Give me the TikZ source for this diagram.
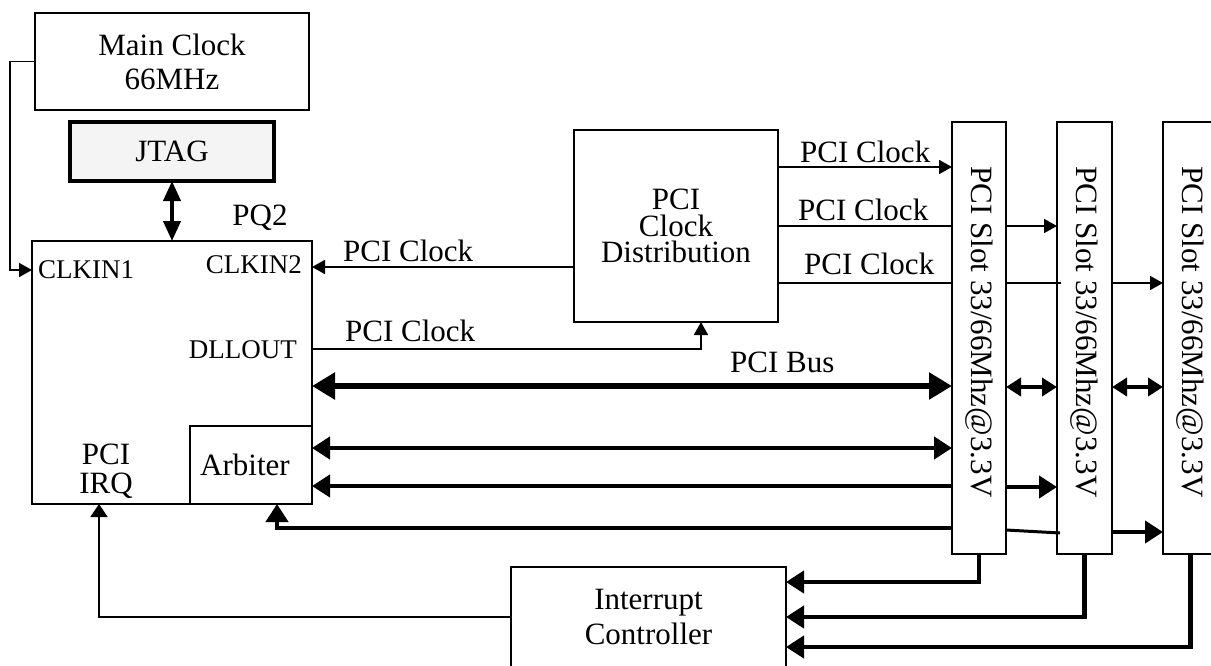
\documentclass[tikz,border=0pt]{standalone}
\usepackage{fontspec}
\setmainfont{Liberation Serif}
\usetikzlibrary{arrows.meta}
\definecolor{jtagfill}{RGB}{244,244,244}
\begin{document}
\begin{tikzpicture}[x=1pt,y=-1pt,
  box/.style={draw, line width=1.8pt, inner sep=0pt, outer sep=0pt, anchor=north west, align=center},
  lbl/.style={inner sep=0pt, font=\fontsize{31}{25}\selectfont},
  pin/.style={inner sep=0pt, font=\fontsize{27}{27}\selectfont},
  thinline/.style={line width=1.8pt},
  tarr/.style={thinline, -{Triangle[length=13pt,width=14pt]}},
  busline/.style={line width=4.2pt},
  barr/.style={busline, -{Triangle[length=18pt,width=22pt]}},
  bbarr/.style={busline, {Triangle[length=18pt,width=22pt]}-{Triangle[length=18pt,width=22pt]}},
  sbarr/.style={busline, {Triangle[length=15pt,width=18pt]}-{Triangle[length=15pt,width=18pt]}},
  pcibus/.style={line width=5.5pt, {Triangle[length=23pt,width=26pt]}-{Triangle[length=23pt,width=26pt]}},
  slottext/.style={lbl, rotate=-90}
]
\useasboundingbox (0,0) rectangle (1211,665);

% boxes
\node[box, lbl, font=\fontsize{31}{34}\selectfont, minimum width=274pt, minimum height=97pt] (mc) at (35,13) {Main Clock\\66MHz};
\node[box, lbl, line width=3.2pt, fill=jtagfill, minimum width=204pt, minimum height=59pt] (jtag) at (70,122) {JTAG};
\node[box, minimum width=280pt, minimum height=263pt] (pq2) at (32,241) {};
\node[box, lbl, minimum width=122pt, minimum height=78pt] (arb) at (190,426) {Arbiter\hspace*{12pt}};
\node[box, lbl, font=\fontsize{31}{26.5}\selectfont, minimum width=204pt, minimum height=192pt] (cd) at (574,130) {PCI\\Clock\\Distribution};
\node[box, lbl, font=\fontsize{31}{35}\selectfont, minimum width=275pt, minimum height=100pt] (ic) at (511,567) {Interrupt\\Controller};
\node[box, minimum width=54pt, minimum height=432pt] (s1) at (952,122) {};
\node[box, minimum width=55pt, minimum height=432pt] (s2) at (1057,122) {};
\node[box, minimum width=55pt, minimum height=432pt] (s3) at (1163,122) {};

% slot texts
\node[slottext] (s1t) at (979,332) {PCI Slot 33/66Mhz@3.3V};
\node[slottext] (s2t) at (1084.5,332) {PCI Slot 33/66Mhz@3.3V};
\node[slottext] (s3t) at (1190.5,332) {PCI Slot 33/66Mhz@3.3V};

% labels
\node[lbl] (pq2l) at (260,218) {PQ2};
\node[pin, anchor=base west] (clk1l) at (38,278) {CLKIN1};
\node[pin, anchor=base east] (clk2l) at (302,273) {CLKIN2};
\node[pin, anchor=base east] (dlll) at (297,358) {DLLOUT};
\node[lbl, align=center, font=\fontsize{31}{29}\selectfont] (irql) at (106,471) {PCI\\IRQ};
\node[lbl, anchor=base west] (l1) at (343,261) {PCI Clock};
\node[lbl, anchor=base west] (l2) at (345,341) {PCI Clock};
\node[lbl, anchor=base west] (l3) at (800,162) {PCI Clock};
\node[lbl, anchor=base west] (l4) at (798,220) {PCI Clock};
\node[lbl, anchor=base west] (l5) at (804,274) {PCI Clock};
\node[lbl, anchor=base west] (lbus) at (730,372) {PCI Bus};

% pin coordinates
\coordinate (clkin1) at (32,270);
\coordinate (clkin2) at (312,267);
\coordinate (dllout) at (312,349);
\coordinate (cdin) at (701,322);
\coordinate (arbin) at (277,504);
\coordinate (irqin) at (99,504);

% clock connections
\draw[tarr] (mc.west) -- ++(-25,0) |- (clkin1);
\draw[line width=4pt, {Triangle[length=20pt,width=17pt]}-{Triangle[length=20pt,width=17pt]}] (jtag.south) -- (jtag.south |- pq2.north);
\draw[tarr] (cd.west |- clkin2) -- (clkin2);
\draw[tarr] (dllout) -| (cdin);
\draw[tarr] (cd.east |- 0,167) -- (s1.west |- 0,167);
\draw[thinline] (cd.east |- 0,226) -- (s1.west |- 0,226);
\draw[tarr] (s1.east |- 0,226) -- (s2.west |- 0,226);
\draw[thinline] (cd.east |- 0,283) -- (s1.west |- 0,283);
\draw[thinline] (s1.east |- 0,283) -- ([xshift=4pt]s2.west |- 0,283);
\draw[tarr] (s2.east |- 0,283) -- (s3.west |- 0,283);

% bus connections
\draw[pcibus] (pq2.east |- 0,386) -- (s1.west |- 0,386);
\draw[sbarr] (s1.east |- 0,387) -- (s2.west |- 0,387);
\draw[sbarr] (s2.east |- 0,387) -- (s3.west |- 0,387);
\draw[bbarr] (pq2.east |- 0,448) -- (s1.west |- 0,448);
\draw[barr] (s1.west |- 0,486) -- (pq2.east |- 0,486);
\draw[barr] (s1.east |- 0,487) -- (s2.west |- 0,487);
\draw[barr] (s1.west |- 0,528) -| (arbin);
\draw[line width=3pt] (s1.east |- 0,530) -- ([xshift=3pt]s2.west |- 0,533);
\draw[barr] (s2.east |- 0,532) -- (s3.west |- 0,532);

% interrupts
\draw[barr] (s1.south) |- (ic.east |- 0,582);
\draw[barr] (s2.south) |- (ic.east |- 0,617);
\draw[barr] (s3.south) |- (ic.east |- 0,647);
\draw[thinline, -{Triangle[length=13pt,width=17pt]}] (ic.west |- 0,617) -| (irqin);
\end{tikzpicture}
\end{document}
